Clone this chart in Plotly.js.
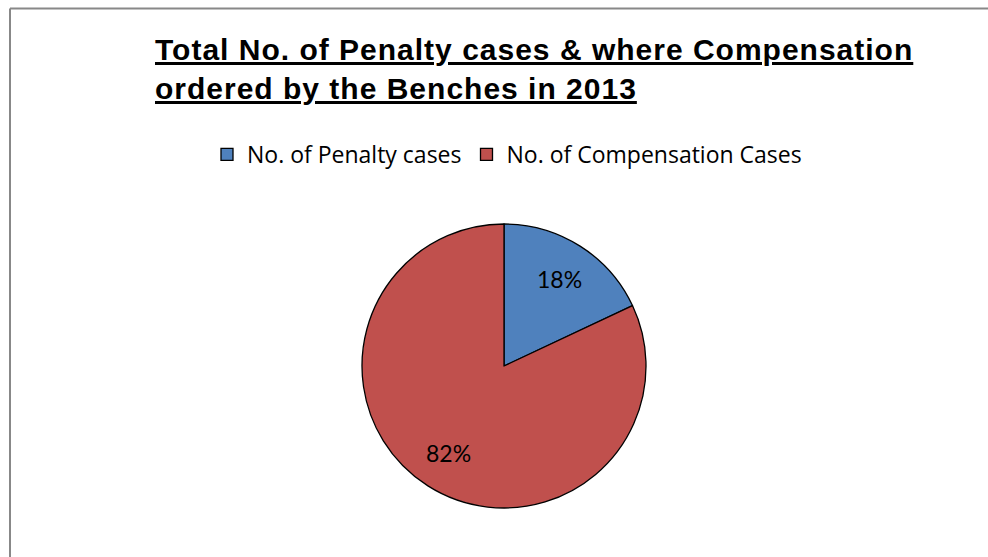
<!DOCTYPE html>
<html>
<head>
<meta charset="utf-8">
<script src="https://cdn.plot.ly/plotly-3.0.1.min.js"></script>
<style>html,body{margin:0;padding:0;background:#fff;}#chart{width:988px;height:557px;}</style>
</head>
<body>
<div id="chart"></div>
<script>
var categories = ["No. of Penalty cases", "No. of Compensation Cases"];
var values = [18, 82];
var colors = ["#4F81BD", "#C0504D"];
var titleLines = ["Total No. of Penalty cases & where Compensation", "ordered by the Benches in 2013"];

var W = 988, H = 557;
// pie geometry (pixels)
var CX = 504, CY = 366, R = 142;

var trace = {
  type: "pie",
  labels: categories,
  values: values,
  sort: false,
  direction: "clockwise",
  rotation: 0,
  marker: {colors: colors, line: {color: "#000000", width: 1.3}},
  textinfo: "none",
  hoverinfo: "none",
  domain: {x: [(CX - R) / W, (CX + R) / W], y: [(H - CY - R) / H, (H - CY + R) / H]}
};

// percentage labels placed at the middle angle of each slice
var total = values.reduce(function (a, b) { return a + b; }, 0);
var annotations = [];
var cum = 0;
values.forEach(function (v) {
  var mid = (cum + v / 2) / total * 2 * Math.PI;
  cum += v;
  var px = CX + 0.725 * R * Math.sin(mid);
  var py = CY - 0.725 * R * Math.cos(mid);
  annotations.push({
    xref: "paper", yref: "paper", x: px / W, y: 1 - py / H,
    xanchor: "center", yanchor: "middle", showarrow: false,
    text: Math.round(v / total * 100) + "%",
    font: {family: "Lato, 'Open Sans', sans-serif", size: 23, color: "#000000"}
  });
});

var layout = {
  width: W, height: H,
  margin: {l: 0, r: 0, t: 0, b: 0},
  paper_bgcolor: "#ffffff",
  showlegend: true,
  title: {
    text: titleLines.map(function (s) { return '<span style="letter-spacing:1px">' + s + '</span>'; }).join("<br>"),
    x: 155 / W, xanchor: "left", xref: "paper",
    y: 1 - 60 / H, yanchor: "top", yref: "paper",
    font: {family: "'Liberation Sans', Arial, sans-serif", size: 30, color: "#000000", weight: "bold", lineposition: "under"}
  },
  legend: {
    orientation: "h",
    x: 207 / W, xanchor: "left",
    y: 1 - 133 / H, yanchor: "top",
    font: {family: "'Open Sans', Lato, sans-serif", size: 23, color: "#000000"},
    itemwidth: 30,
    traceorder: "normal"
  },
  annotations: annotations,
  shapes: [
    {type: "line", xref: "paper", yref: "paper", x0: 10 / W, x1: 1, y0: 1 - 8.5 / H, y1: 1 - 8.5 / H, line: {color: "#888888", width: 2}},
    {type: "line", xref: "paper", yref: "paper", x0: 10 / W, x1: 10 / W, y0: 0, y1: 1 - 8.5 / H, line: {color: "#888888", width: 2}}
  ]
};

Plotly.newPlot("chart", [trace], layout, {displayModeBar: false, staticPlot: true});
</script>
</body>
</html>
